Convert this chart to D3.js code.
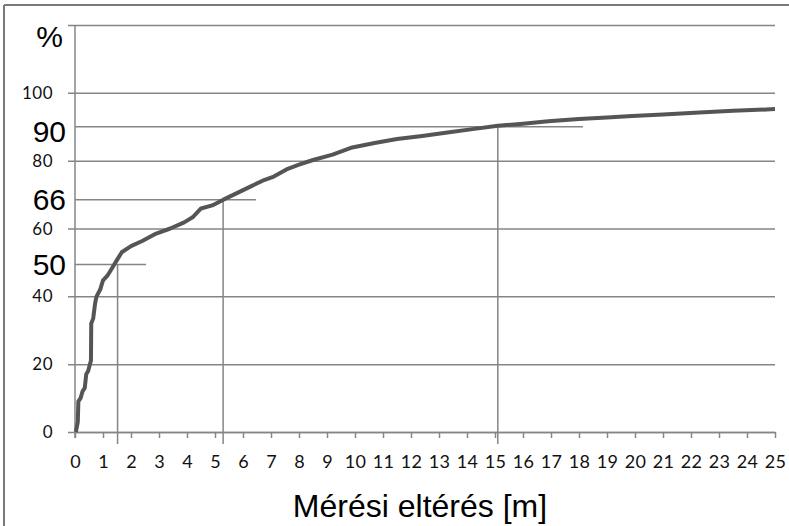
<!DOCTYPE html>
<html>
<head>
<meta charset="utf-8">
<script src="https://cdn.jsdelivr.net/npm/d3@7"></script>
<style>
  body { margin: 0; background: #fff; }
  svg { display: block; }
</style>
</head>
<body>
<svg id="chart"></svg>
<script>
// cumulative share of measurements (percent) against measurement deviation (m)
var deviation = [0.03, 0.1, 0.12, 0.2, 0.27, 0.35, 0.4, 0.47, 0.55, 0.57, 0.58, 0.65, 0.72, 0.77, 0.9, 1.0, 1.15, 1.3, 1.49,
  1.67, 2.0, 2.4, 2.9, 3.4, 3.9, 4.2, 4.5, 4.9, 5.3, 5.8, 6.3, 6.7, 7.1, 7.6, 8.0, 8.5, 9.2, 9.9, 10.7, 11.5,
  12.4, 13.3, 14.2, 15.1, 16.0, 16.9, 18.0, 19.0, 19.9, 21.0, 22.3, 23.5, 25.0];
var cumPercent = [0, 3, 9, 10, 12, 13, 17, 18, 20.5, 21, 32, 33.5, 38, 40, 42, 44.7, 46, 48, 50.6,
  53, 54.8, 56.3, 58.5, 60, 61.8, 63.3, 65.9, 66.8, 68.5, 70.5, 72.5, 74.1, 75.3, 77.6, 78.8, 80.2, 81.8, 83.9, 85.2, 86.4,
  87.3, 88.3, 89.3, 90.3, 90.9, 91.6, 92.3, 92.7, 93.2, 93.6, 94.2, 94.7, 95.2];

var xTicks = d3.range(0, 26);
var gridTicks = [0, 20, 40, 60, 80, 100, 120];
var smallLabels = [0, 20, 40, 60, 80, 100];
// marked levels: label, level on the axis, deviation where it is reached, end of the horizontal mark
var markLabels = ["50", "66", "90"];
var markLevels = [49.4, 68.5, 90];
var markDeviation = [1.52, 5.29, 15.1];
var markLineEnd = [2.54, 6.46, 18.14];

var width = 789, height = 526;
var margin = { left: 75, right: 14, top: 25, bottom: 94 };

var svg = d3.select("#chart").attr("width", width).attr("height", height);

var x = d3.scaleLinear().domain([0, 25]).range([margin.left, width - margin.right]);
var y = d3.scaleLinear().domain([0, 120]).range([height - margin.bottom, margin.top]);

var gridColor = "#858585";

// frame
svg.append("line").attr("x1", 4).attr("x2", width).attr("y1", 5).attr("y2", 5)
  .attr("stroke", "#7a7a7a").attr("stroke-width", 2);
svg.append("line").attr("x1", 4).attr("x2", 4).attr("y1", 5).attr("y2", height)
  .attr("stroke", "#7a7a7a").attr("stroke-width", 2);

// horizontal gridlines
var grid = svg.append("g")
  .attr("transform", "translate(" + (margin.left - 7) + ",0)")
  .call(d3.axisLeft(y).tickValues(gridTicks).tickSize(-(x(25) - margin.left + 7)).tickFormat(""));
grid.select(".domain").remove();
grid.selectAll(".tick line").attr("stroke", gridColor).attr("stroke-width", 1.5);

// y axis line
svg.append("line")
  .attr("x1", x(0)).attr("x2", x(0))
  .attr("y1", y(120)).attr("y2", y(0) + 6)
  .attr("stroke", gridColor).attr("stroke-width", 1.5);

// x axis
var xAxis = svg.append("g")
  .attr("transform", "translate(0," + y(0) + ")")
  .call(d3.axisBottom(x).tickValues(xTicks).tickSize(6).tickPadding(17).tickSizeOuter(0));
xAxis.select(".domain").attr("stroke", gridColor).attr("stroke-width", 1.5);
xAxis.selectAll(".tick line").attr("stroke", gridColor).attr("stroke-width", 1.5);
xAxis.selectAll(".tick text")
  .attr("font-family", "Lato, 'Open Sans', sans-serif")
  .attr("font-size", 18)
  .attr("fill", "#111")
  .attr("letter-spacing", 0.3);

// small y labels
svg.append("g").selectAll("text")
  .data(smallLabels)
  .enter().append("text")
  .attr("x", 53)
  .attr("y", function (d) { return y(d); })
  .attr("dy", "0.36em")
  .attr("text-anchor", "end")
  .attr("font-family", "Lato, 'Open Sans', sans-serif")
  .attr("font-size", 17)
  .attr("letter-spacing", 0.5)
  .attr("fill", "#111")
  .text(function (d) { return d; });

// percent sign in place of the 120 label
svg.append("text")
  .attr("x", 63).attr("y", y(120) + 22)
  .attr("text-anchor", "end")
  .attr("font-family", "'Liberation Sans', Arial, sans-serif")
  .attr("font-size", 30)
  .attr("fill", "#000")
  .text("%");

// marked levels: horizontal and vertical reference lines
var marks = svg.append("g");
markLevels.forEach(function (lv, i) {
  marks.append("line")
    .attr("x1", x(0)).attr("x2", x(markLineEnd[i]))
    .attr("y1", y(lv)).attr("y2", y(lv))
    .attr("stroke", gridColor).attr("stroke-width", 1.5);
  marks.append("line")
    .attr("x1", x(markDeviation[i])).attr("x2", x(markDeviation[i]))
    .attr("y1", y(0) + 12).attr("y2", y(lv))
    .attr("stroke", gridColor).attr("stroke-width", 1.5);
  marks.append("text")
    .attr("x", 66)
    .attr("y", y(lv))
    .attr("dy", i === 2 ? "0.5em" : "0.36em")
    .attr("text-anchor", "end")
    .attr("font-family", "'Liberation Sans', Arial, sans-serif")
    .attr("font-size", 30)
    .attr("fill", "#000")
    .text(markLabels[i]);
});

// the curve
var pts = deviation.map(function (d, i) { return [d, cumPercent[i]]; });
var line = d3.line()
  .x(function (d) { return x(d[0]); })
  .y(function (d) { return y(d[1]); });
svg.append("path")
  .datum(pts)
  .attr("d", line)
  .attr("fill", "none")
  .attr("stroke", "#555")
  .attr("stroke-width", 4)
  .attr("stroke-linejoin", "round");

// axis title
svg.append("text")
  .attr("x", 420).attr("y", 517)
  .attr("text-anchor", "middle")
  .attr("font-family", "'Liberation Sans', Arial, sans-serif")
  .attr("font-size", 32)
  .attr("fill", "#000")
  .text("Mérési eltérés [m]");
</script>
</body>
</html>
